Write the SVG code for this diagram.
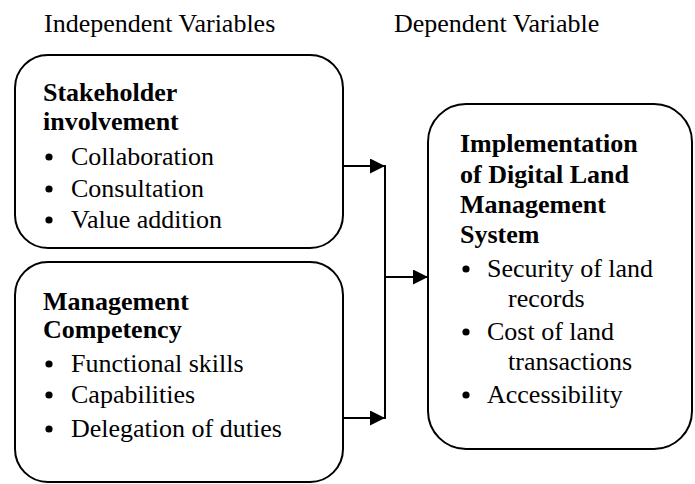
<svg xmlns="http://www.w3.org/2000/svg" width="695" height="484" viewBox="0 0 695 484">
  <style>
    text { font-family: "Liberation Serif", "Times New Roman", serif; font-size: 26px; fill: #000; }
    .b { font-weight: bold; }
    .box { fill: #fff; stroke: #000; stroke-width: 2; }
    .dot { fill: #000; }
    .wire { fill: none; stroke: #000; stroke-width: 2; }
  </style>
  <defs>
    <marker id="arrow" viewBox="0 0 15 15" refX="15" refY="7.5" markerWidth="15" markerHeight="15" markerUnits="userSpaceOnUse" orient="auto">
      <path d="M0,0 L15,7.5 L0,15 Z" fill="#000"/>
    </marker>
  </defs>
  <rect width="695" height="484" fill="#fff"/>

  <!-- column headings -->
  <text x="44" y="32">Independent Variables</text>
  <text x="394" y="32">Dependent Variable</text>

  <g id="stakeholder">
    <rect class="box" x="15" y="55" width="328" height="193" rx="33" ry="33"/>
    <text class="b" x="43" y="101">Stakeholder</text>
    <text class="b" x="43" y="130">involvement</text>
    <circle class="dot" cx="49" cy="157" r="3.6"/>
    <text x="71" y="165">Collaboration</text>
    <circle class="dot" cx="49" cy="189" r="3.6"/>
    <text x="71" y="197">Consultation</text>
    <circle class="dot" cx="49" cy="220" r="3.6"/>
    <text x="71" y="228">Value addition</text>
  </g>

  <g id="competency">
    <rect class="box" x="15" y="262" width="328" height="220" rx="33" ry="33"/>
    <text class="b" x="43" y="310">Management</text>
    <text class="b" x="43" y="338">Competency</text>
    <circle class="dot" cx="49" cy="364" r="3.6"/>
    <text x="71" y="372">Functional skills</text>
    <circle class="dot" cx="49" cy="395" r="3.6"/>
    <text x="71" y="403">Capabilities</text>
    <circle class="dot" cx="49" cy="429" r="3.6"/>
    <text x="71" y="437">Delegation of duties</text>
  </g>

  <g id="implementation">
    <rect class="box" x="428" y="104" width="264" height="345" rx="38" ry="38"/>
    <text class="b" x="460" y="152">Implementation</text>
    <text class="b" x="460" y="183">of Digital Land</text>
    <text class="b" x="460" y="213">Management</text>
    <text class="b" x="460" y="243">System</text>
    <circle class="dot" cx="466" cy="269" r="3.6"/>
    <text x="487" y="277">Security of land</text>
    <text x="508" y="307">records</text>
    <circle class="dot" cx="466" cy="332" r="3.6"/>
    <text x="487" y="340">Cost of land</text>
    <text x="508" y="370">transactions</text>
    <circle class="dot" cx="466" cy="395" r="3.6"/>
    <text x="487" y="403">Accessibility</text>
  </g>

  <g id="connectors">
    <line class="wire" x1="343" y1="166" x2="385" y2="166" marker-end="url(#arrow)"/>
    <line class="wire" x1="343" y1="418" x2="385" y2="418" marker-end="url(#arrow)"/>
    <line class="wire" x1="385" y1="165" x2="385" y2="419"/>
    <line class="wire" x1="385" y1="277" x2="428" y2="277" marker-end="url(#arrow)"/>
  </g>
</svg>
